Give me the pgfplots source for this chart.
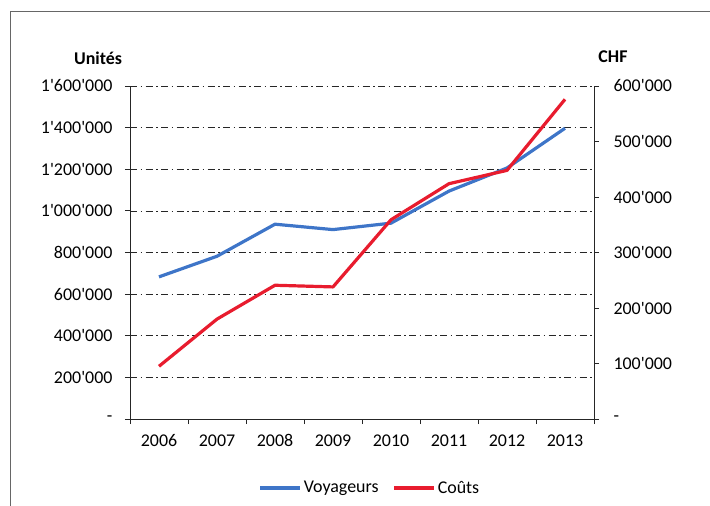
\documentclass[border=0pt]{standalone}
\usepackage{fontspec}
\setmainfont{Carlito}[Ligatures=TeXOff]
\usepackage{pgfplots}
\pgfplotsset{compat=1.18}
\definecolor{voyblue}{RGB}{62,117,200}
\definecolor{coutred}{RGB}{232,28,46}

\pgfplotsset{
  base/.style={
    at={(130bp,-419bp)}, anchor=south west,
    scale only axis, width=464bp, height=333bp,
    xmin=-0.5, xmax=7.5,
    scaled y ticks=false,
    axis line style={-, black!85, line width=0.8bp},
    tick style={black!85, line width=0.8bp},
    tick align=outside,
    major tick length=5bp,
    tick label style={font=\fontsize{18}{21}\selectfont},
  },
}

\begin{document}
\begin{tikzpicture}[font=\fontsize{18}{21}\selectfont]
\useasboundingbox (0,0) rectangle (710bp,-506bp);
\draw[black!60, line width=0.8bp] (10bp,-506bp) -- (10bp,-11.5bp) -- (710bp,-11.5bp);

% left axis: Voyageurs
\begin{axis}[base,
  axis x line*=bottom, axis y line*=left,
  ymin=0, ymax=1600000,
  ytick={0,200000,400000,600000,800000,1000000,1200000,1400000,1600000},
  yticklabels={-,200'000,400'000,600'000,800'000,1'000'000,1'200'000,1'400'000,1'600'000},
  yticklabel style={xshift=-9bp},
  ymajorgrids,
  grid style={black!85, line width=0.7bp, dash pattern=on 7bp off 3.5bp on 1.5bp off 3.5bp},
  xtick={-0.5,0.5,1.5,2.5,3.5,4.5,5.5,6.5,7.5},
  xticklabels={},
  extra x ticks={0,1,2,3,4,5,6,7},
  extra x tick labels={2006,2007,2008,2009,2010,2011,2012,2013},
  extra x tick style={major tick length=0pt, xticklabel style={yshift=-12bp}},
  ylabel={Unités},
  ylabel style={rotate=-90, font=\bfseries\fontsize{18}{21}\selectfont,
    at={(axis description cs:0,1)}, anchor=center, xshift=-32bp, yshift=28bp},
]
\addplot[voyblue, line width=3.2bp, line join=round] coordinates {
  (0,683000) (1,782000) (2,936000) (3,910000) (4,941000) (5,1095000) (6,1206000) (7,1397000)};
\end{axis}

% right axis: Couts
\begin{axis}[base,
  axis y line*=right, axis x line=none,
  ymin=0, ymax=600000,
  ytick={0,100000,200000,300000,400000,500000,600000},
  yticklabels={-,100'000,200'000,300'000,400'000,500'000,600'000},
  yticklabel style={xshift=11bp},
  ylabel={CHF},
  ylabel style={rotate=-90, font=\bfseries\fontsize{18}{21}\selectfont,
    at={(axis description cs:1,1)}, anchor=center, xshift=19bp, yshift=29bp},
  legend style={at={(axis description cs:0.517,-0.207)}, anchor=center,
    draw=none, fill=none, legend columns=-1,
    font=\fontsize{18}{21}\selectfont,
    /tikz/every even column/.append style={column sep=12bp}},
  legend image code/.code={\draw[#1] (0bp,0bp) -- (40bp,0bp);},
]
\addlegendimage{voyblue, line width=3.2bp}
\addplot[coutred, line width=3.2bp, line join=round] coordinates {
  (0,95000) (1,180000) (2,241000) (3,238000) (4,359000) (5,424000) (6,448000) (7,576000)};
\legend{Voyageurs,Coûts}
\end{axis}
\end{tikzpicture}
\end{document}
